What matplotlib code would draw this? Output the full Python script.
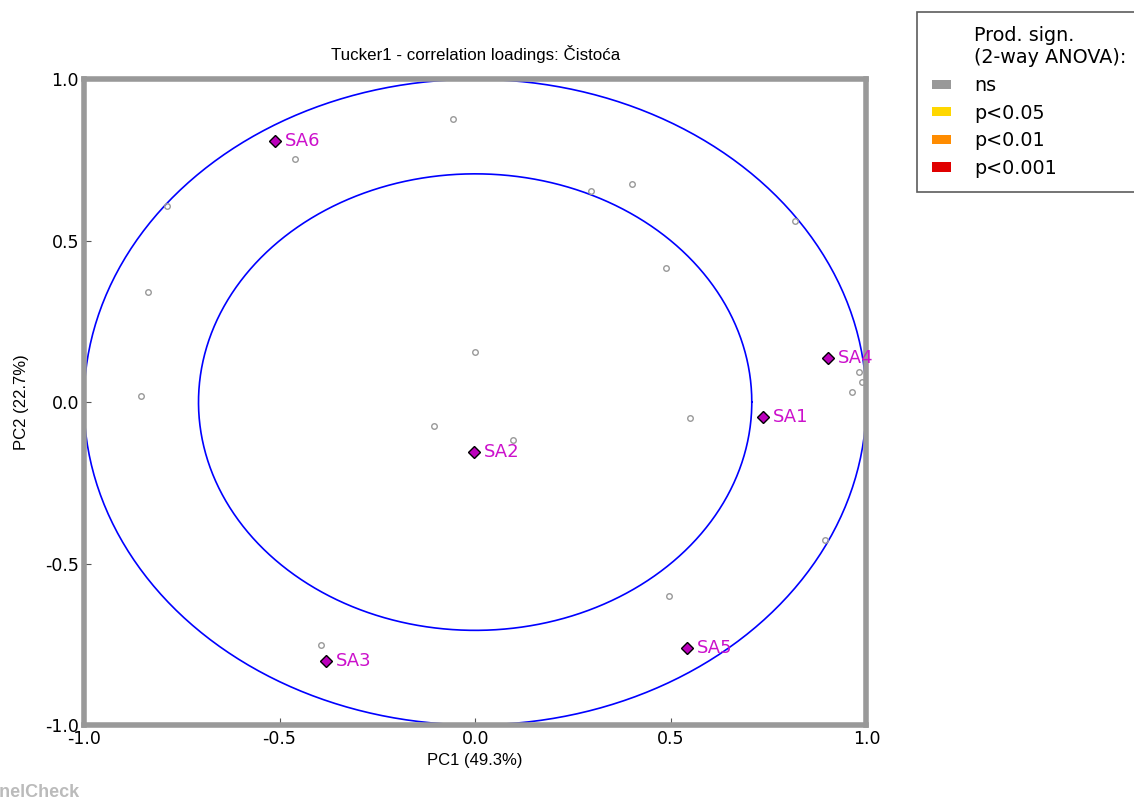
import numpy as np
import matplotlib
matplotlib.use("Agg")
import matplotlib.pyplot as plt
from matplotlib.patches import Patch

plt.rcParams["axes.unicode_minus"] = False

# Sample loadings (diamonds)
sample_names = ["SA1", "SA2", "SA3", "SA4", "SA5", "SA6"]
sample_x = [0.737, -0.003, -0.381, 0.903, 0.542, -0.512]
sample_y = [-0.046, -0.155, -0.802, 0.136, -0.762, 0.808]

# Attribute loadings (small open circles, all ns)
attr_x = [-0.056, -0.460, -0.788, -0.836, -0.854, 0.000, -0.105, 0.097, 0.297, 0.402,
          0.488, 0.818, 0.550, 0.982, 0.990, 0.962, 0.893, 0.496, -0.394]
attr_y = [0.876, 0.752, 0.607, 0.341, 0.019, 0.155, -0.074, -0.118, 0.653, 0.675,
          0.415, 0.560, -0.050, 0.093, 0.062, 0.031, -0.427, -0.601, -0.752]

legend_labels = ["ns", "p<0.05", "p<0.01", "p<0.001"]
legend_colors = ["#999999", "#ffd700", "#ff8c00", "#e00000"]

fig = plt.figure(figsize=(11.34, 8.01), dpi=100)
ax = fig.add_axes([0.074, 0.095, 0.69, 0.806])

t = np.linspace(0, 2 * np.pi, 400)
ax.plot(np.cos(t), np.sin(t), color="blue", lw=1.2)
ax.plot(np.sqrt(0.5) * np.cos(t), np.sqrt(0.5) * np.sin(t), color="blue", lw=1.2)

ax.plot(attr_x, attr_y, "o", mfc="none", mec="#999999", ms=4, mew=1)
ax.plot(sample_x, sample_y, "D", mfc="#bb00bb", mec="black", ms=6, mew=1)
for n, x, y in zip(sample_names, sample_x, sample_y):
    ax.text(x + 0.025, y, n, color="#cc11cc", fontsize=13, va="center", ha="left")

ax.set_xlim(-1, 1)
ax.set_ylim(-1, 1)
ax.set_xticks([-1.0, -0.5, 0.0, 0.5, 1.0])
ax.set_yticks([-1.0, -0.5, 0.0, 0.5, 1.0])
ax.tick_params(direction="in", labelsize=12.5, length=5, color="#555555")
for s in ax.spines.values():
    s.set_color("#999999")
    s.set_linewidth(4)

ax.set_title("Tucker1 - correlation loadings: Čistoća", fontsize=12.2,
             family="Liberation Sans", pad=14)
ax.set_xlabel("PC1 (49.3%)", fontsize=12, family="Liberation Sans", labelpad=4)
ax.set_ylabel("PC2 (22.7%)", fontsize=12, family="Liberation Sans", labelpad=12)

# first entry is the legend heading, with an invisible handle
handles = [Patch(facecolor="none", edgecolor="none")]
handles += [Patch(facecolor=c, edgecolor="none") for c in legend_colors]
labels = ["Prod. sign.\n(2-way ANOVA):"] + legend_labels
leg = fig.legend(handles, labels, loc="upper left", bbox_to_anchor=(0.809, 0.985),
                 borderaxespad=0, fontsize=13.8, frameon=True, fancybox=False,
                 handlelength=1.0, handleheight=0.35, handletextpad=1.2,
                 borderpad=0.75, labelspacing=0.45)
leg.get_frame().set_edgecolor("#333333")
leg.get_frame().set_linewidth(1.2)

fig.text(-0.02, 0.005, "PanelCheck", fontsize=13, fontweight="bold",
         color="#bbbbbb", family="Liberation Sans")

fig.savefig("out.png", dpi=100)
